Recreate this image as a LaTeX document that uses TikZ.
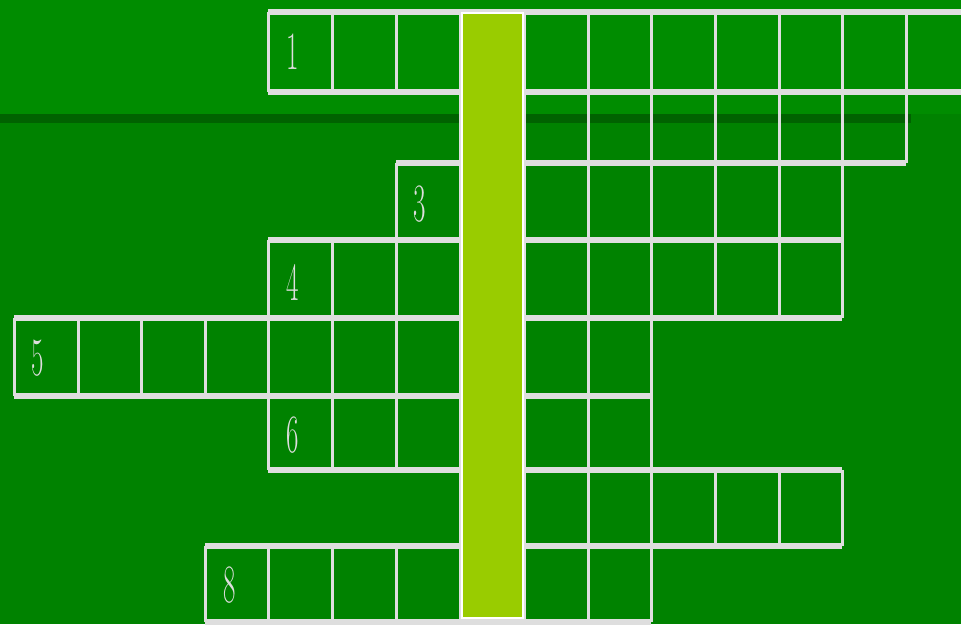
\documentclass[tikz,border=0pt]{standalone}
\begin{document}
\begin{tikzpicture}[x=1pt,y=-1pt,
  hline/.style={draw=gridgray,line width=5.5pt},
  vline/.style={draw=gridgray,line width=3pt},
  numlabel/.style={text=gridgray,font=\fontsize{54}{54}\selectfont,xscale=0.5,inner sep=0pt,anchor=center},
  hilite/.style={fill=hiyellow,draw=white,line width=2pt}]
\definecolor{gridgray}{RGB}{222,222,222}
\definecolor{topgreen}{RGB}{0,140,0}
\definecolor{lowgreen}{RGB}{0,130,0}
\definecolor{stripegreen}{RGB}{0,98,0}
\definecolor{hiyellow}{RGB}{153,204,0}
\useasboundingbox (0,0) rectangle (961,624);
\clip (0,0) rectangle (961,624);
\fill[lowgreen] (0,0) rectangle (961,624);
\fill[topgreen] (0,0) rectangle (961,114);
\fill[stripegreen] (0,114) rectangle (911,123);
% column boundaries
\def\xs{{14,78,141,205,268,332,396,460,524,588,651,715,779,842,906,975}}
% rows: top, bottom, first col index, last col index
\foreach \t/\b/\a/\e in {12/92/4/15, 92/163/7/14, 163/240/6/13, 240/318/4/13, 318/396/0/10, 396/470/4/10, 470/546/7/13, 546/622/3/10}{
  \pgfmathsetmacro{\xa}{\xs[\a]}
  \pgfmathsetmacro{\xe}{\xs[\e]}
  \draw[hline] (\xa,\t) -- (\xe,\t);
  \draw[hline] (\xa,\b) -- (\xe,\b);
  \foreach \c in {\a,...,\e}{
    \pgfmathsetmacro{\xc}{\xs[\c]}
    \draw[vline] (\xc,\t) -- (\xc,\b);
  }
}
\node[hilite,minimum width=61pt,minimum height=605pt,inner sep=0pt,anchor=north west] (hl) at (461,12) {};
\node[numlabel] (n1) at (293,52) {1};
\node[numlabel] (n3) at (420,204) {3};
\node[numlabel] (n4) at (293,282) {4};
\node[numlabel] (n5) at (38,358) {5};
\node[numlabel] (n6) at (293,435) {6};
\node[numlabel] (n8) at (230,585) {8};
\end{tikzpicture}
\end{document}
